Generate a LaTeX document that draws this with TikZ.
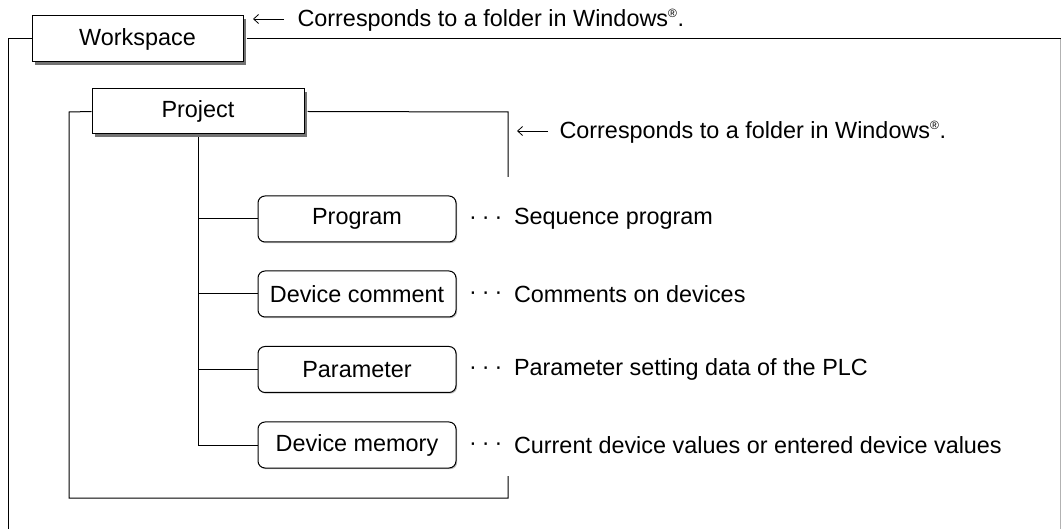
\documentclass[tikz,border=0pt]{standalone}
\usepackage{fontspec}
\setmainfont{Liberation Sans}
\usetikzlibrary{shadows,arrows.meta}
\begin{document}
\begin{tikzpicture}[x=1pt,y=-1pt,
  line width=1pt,
  every node/.style={font=\fontsize{23.4}{27}\selectfont, inner sep=0pt},
  sqbox/.style={draw, fill=white, line width=1pt,
    general shadow={fill=black!55, shadow xshift=3pt, shadow yshift=-3pt}},
  rbox/.style={draw, fill=white, rounded corners=7pt, line width=1pt,
    minimum width=198pt, minimum height=46pt,
    general shadow={fill=black!25, shadow xshift=1.2pt, shadow yshift=-1.2pt}},
  desc/.style={anchor=west},
  note/.style={-{Straight Barb[length=5pt,width=9pt,line width=0.8pt]}, line width=0.8pt}
]
\useasboundingbox (0,0) rectangle (1061,529);

% outer frame (workspace)
\node[sqbox, minimum width=211pt, minimum height=46pt] (ws) at (137.5,39) {Workspace};
\coordinate (wsl) at (8,39);
\coordinate (wsb) at (8,529);
\coordinate (wsr) at (1061,39);
\draw (ws.west) -- (wsl) -- (wsb);
\draw ([xshift=3pt]ws.east) -- (wsr);
\draw[black!30] (1060.5,39.5) -- (1060.5,529);

% note 1
\coordinate (n1s) at (284,19);
\coordinate (n1e) at (253,19);
\draw[note] (n1s) -- (n1e);
\node[desc] (t1) at (297,20) {Corresponds to a folder in Windows\textsuperscript{\fontsize{12}{12}\selectfont ®}.};

% project frame
\node[sqbox, minimum width=212pt, minimum height=45pt] (proj) at (198,111.5) {Project};
\coordinate (pl) at (69,112);
\coordinate (pbl) at (69,498);
\coordinate (pbr) at (508,498);
\coordinate (pbt) at (508,476);
\coordinate (ptr) at (508,112);
\coordinate (ptb) at (508,177);
\draw (proj.west) -- (pl) -- (pbl) -- (pbr) -- (pbt);
\draw ([xshift=3pt]proj.east) -- (ptr) -- (ptb);

% note 2
\coordinate (n2s) at (548,131);
\coordinate (n2e) at (517,131);
\draw[note] (n2s) -- (n2e);
\node[desc] (t2) at (559,132) {Corresponds to a folder in Windows\textsuperscript{\fontsize{12}{12}\selectfont ®}.};

% items
\node[rbox] (b1) at (357,219) {Program};
\node[rbox] (b2) at (357,294) {Device comment};
\node[rbox] (b3) at (357,369.5) {Parameter};
\node[rbox] (b4) at (357,445) {Device memory};

\draw ([yshift=-3pt]proj.south) |- (b4.west);
\draw (proj.south |- b1.west) -- (b1.west);
\draw (proj.south |- b2.west) -- (b2.west);
\draw (proj.south |- b3.west) -- (b3.west);

\foreach \b/\t in {b1/Sequence program, b2/Comments on devices, b3/Parameter setting data of the PLC, b4/Current device values or entered device values}{
  \node[desc] (\b d) at ([xshift=12pt,yshift=-1.5pt]\b.east) {·\hspace{5pt}·\hspace{5pt}·};
  \node[desc] (\b t) at ([xshift=57pt]\b.east) {\t};
}
\end{tikzpicture}
\end{document}
